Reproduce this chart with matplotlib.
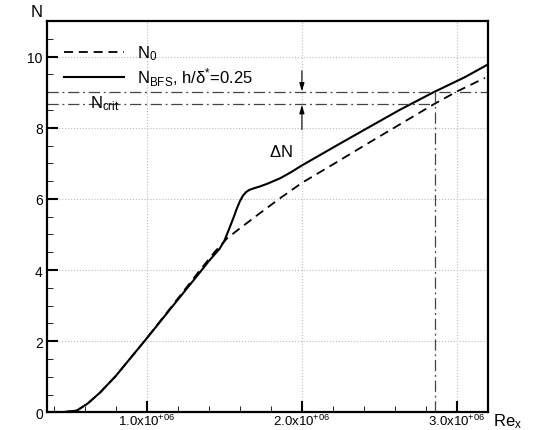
import matplotlib
matplotlib.use('Agg')
import matplotlib.pyplot as plt
import numpy as np

plt.rcParams['font.family'] = ['Liberation Sans', 'DejaVu Sans']
plt.rcParams['mathtext.fontset'] = 'custom'
plt.rcParams['mathtext.rm'] = 'Liberation Sans'
plt.rcParams['mathtext.it'] = 'Liberation Sans:italic'
plt.rcParams['mathtext.default'] = 'rm'

# data (Re_x in units of 1e6)
re_n0 = [0.45, 0.55, 0.62, 0.70, 0.80, 0.90, 1.00, 1.12, 1.24, 1.34, 1.44, 1.52, 1.60,
         1.73, 1.86, 2.00, 2.22, 2.41, 2.63, 2.85, 3.00, 3.18]
n0 = [0.00, 0.05, 0.25, 0.56, 1.02, 1.55, 2.08, 2.75, 3.42, 3.98, 4.52, 4.90, 5.17,
      5.60, 6.02, 6.45, 7.02, 7.52, 8.09, 8.66, 9.02, 9.40]

re_bfs = [0.45, 0.55, 0.62, 0.70, 0.80, 0.90, 1.00, 1.12, 1.24, 1.34, 1.40, 1.44, 1.47,
          1.50, 1.535, 1.56, 1.58, 1.60, 1.62, 1.64, 1.66, 1.70, 1.73, 1.78, 1.86, 1.93,
          2.00, 2.24, 2.41, 2.63, 2.85, 3.05, 3.20]
n_bfs = [0.00, 0.05, 0.25, 0.56, 1.02, 1.55, 2.08, 2.73, 3.38, 3.92, 4.25, 4.45, 4.60,
         4.82, 5.20, 5.48, 5.72, 5.93, 6.09, 6.19, 6.25, 6.31, 6.35, 6.43, 6.58, 6.75,
         6.94, 7.54, 7.96, 8.50, 9.00, 9.42, 9.78]

n_crit_bfs = 9.0
n_crit_0 = 8.66
re_crit = 2.86
re_arrow = 2.0

x_ticks = [1.0, 2.0, 3.0]
x_tick_labels = ['1.0x10$^{+06}$', '2.0x10$^{+06}$', '3.0x10$^{+06}$']
y_ticks = [0, 2, 4, 6, 8, 10]

fig = plt.figure(figsize=(5.34, 4.31), dpi=100)
ax = fig.add_axes([0.088, 0.041, 0.826, 0.908])

sc = 1e6
ax.plot(np.array(re_n0) * sc, n0, color='black', lw=1.3, linestyle=(0, (5, 3.2)),
        label='N$_0$')
ax.plot(np.array(re_bfs) * sc, n_bfs, color='black', lw=1.5,
        label='N$_{BFS}$, h/$\\delta^{*}$=0.25')

dd = (0, (9, 3, 1.5, 3))
ax.axhline(n_crit_bfs, color='#444444', lw=0.9, linestyle=dd)
ax.plot([0.357 * sc, re_crit * sc], [n_crit_0, n_crit_0], color='#444444', lw=0.9, linestyle=dd)
ax.plot([re_crit * sc, re_crit * sc], [0, n_crit_bfs], color='#444444', lw=0.9, linestyle=dd)

# delta N arrows
ax.annotate('', xy=(re_arrow * sc, n_crit_bfs + 0.02), xytext=(re_arrow * sc, 9.6),
            arrowprops=dict(arrowstyle='-|>,head_length=0.5,head_width=0.15',
                            color='black', lw=0.8, shrinkA=0, shrinkB=0))
ax.annotate('', xy=(re_arrow * sc, n_crit_0 - 0.02), xytext=(re_arrow * sc, 7.95),
            arrowprops=dict(arrowstyle='-|>,head_length=0.5,head_width=0.15',
                            color='black', lw=0.8, shrinkA=0, shrinkB=0))

ax.text(1.865 * sc, 7.34, '$\\Delta$N', fontsize=12, ha='center', va='center')
ax.text(0.635 * sc, 8.58, 'N$_{crit}$', fontsize=12, ha='left', va='baseline')

ax.set_xlim(0.357 * sc, 3.2 * sc)
ax.set_ylim(0, 11)
ax.set_xticks([v * sc for v in x_ticks])
ax.set_xticklabels(x_tick_labels)
ax.set_xticks([v * sc for v in np.arange(0.4, 3.21, 0.2)], minor=True)
ax.set_yticks(y_ticks)
ax.set_yticks(np.arange(0, 11.01, 0.5), minor=True)
ax.tick_params(which='major', direction='in', length=8, width=1.5, labelsize=10,
               top=False, right=False, pad=3)
ax.tick_params(axis='x', which='major', pad=0.5, labelsize=9.5)
ax.tick_params(which='minor', direction='in', length=4, width=0.6, top=False, right=False)
ax.grid(True, which='major', linestyle=':', color='#bbbbbb', lw=0.8)

for s in ax.spines.values():
    s.set_linewidth(1.6)

ax.text(-0.023, 1.005, 'N', transform=ax.transAxes, fontsize=12, ha='center', va='bottom')
ax.text(1.012, -0.022, 'Re$_x$', transform=ax.transAxes, fontsize=12, ha='left', va='center')

ax.legend(loc='upper left', bbox_to_anchor=(0.0, 0.985), frameon=False, fontsize=12,
          handlelength=3.6, handletextpad=0.8, labelspacing=0.2, borderaxespad=0.6)

fig.savefig('out.png', dpi=100)
